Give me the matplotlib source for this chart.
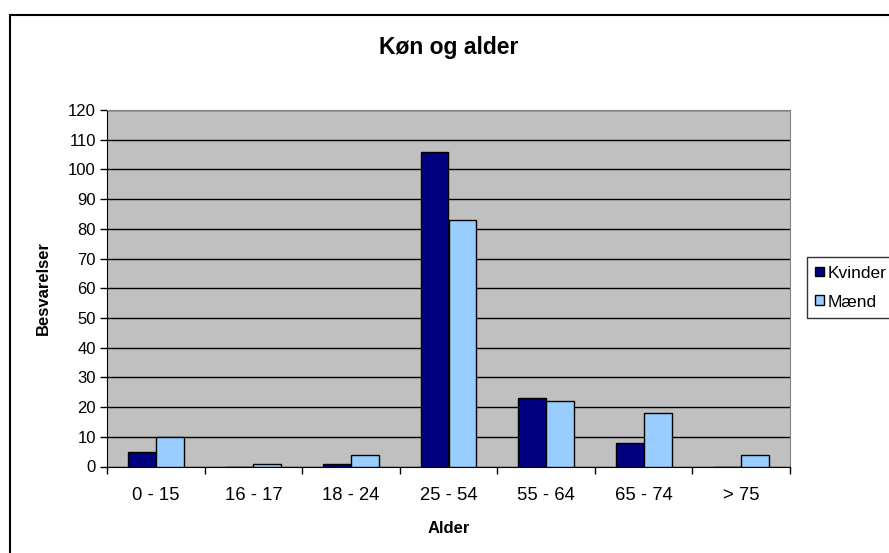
import numpy as np
import matplotlib.pyplot as plt
from matplotlib.patches import Rectangle

plt.rcParams['font.family'] = ['Liberation Sans', 'DejaVu Sans']

# data
aldersgrupper = ['0 - 15', '16 - 17', '18 - 24', '25 - 54', '55 - 64', '65 - 74', '> 75']
kvinder = [5, 0, 1, 106, 23, 8, 0]
maend = [10, 1, 4, 83, 22, 18, 4]
y_ticks = list(range(0, 121, 10))

fig = plt.figure(figsize=(8.89, 5.53), dpi=100)
ax = fig.add_axes([107 / 889, 1 - 466.5 / 553, (790 - 107) / 889, (466.5 - 110) / 553])

# outer chart border (clipped on right/bottom like the original)
fig.patches.append(Rectangle((10 / 889, -0.1), 1.2, 1 - 15 / 553 + 0.1,
                             transform=fig.transFigure, fill=False,
                             edgecolor='black', lw=1.5, clip_on=False))

x = np.arange(len(aldersgrupper))
w = 1 / 3.5
ax.set_facecolor('#C0C0C0')
ax.bar(x - w / 2, kvinder, w, color='#000080', edgecolor='black', lw=1, label='Kvinder', zorder=3)
ax.bar(x + w / 2, maend, w, color='#99CCFF', edgecolor='black', lw=1, label='Mænd', zorder=3)

ax.set_xlim(-0.5, len(aldersgrupper) - 0.5)
ax.set_ylim(0, 120)
ax.set_yticks(y_ticks)
ax.yaxis.grid(True, color='black', lw=1, zorder=1)
ax.set_axisbelow(True)

ax.set_xticks(np.arange(len(aldersgrupper) + 1) - 0.5)
ax.set_xticklabels([])
ax.set_xticks(x, minor=True)
ax.set_xticklabels(aldersgrupper, minor=True)
ax.tick_params(axis='x', which='major', direction='out', length=5, width=1, color='black')
ax.tick_params(axis='x', which='minor', length=0, pad=15, labelsize=13.3)
ax.tick_params(axis='y', direction='out', length=5, width=1, labelsize=12, pad=3)

for s in ['top', 'right']:
    ax.spines[s].set_color('#808080')
for s in ['left', 'bottom']:
    ax.spines[s].set_color('black')

ax.set_title('Køn og alder', fontsize=16.5, fontweight='bold', pad=40)
ax.set_xlabel('Alder', fontsize=12, fontweight='bold', labelpad=12)
ax.set_ylabel('Besvarelser', fontsize=12, fontweight='bold', labelpad=12)

leg = ax.legend(loc='upper left', bbox_to_anchor=(806.5 / 889, 1 - 257 / 553),
                bbox_transform=fig.transFigure, fontsize=12.5, frameon=True,
                fancybox=False, edgecolor='black', handlelength=0.5, handleheight=0.5,
                handletextpad=0.2, borderpad=0.5, labelspacing=0.8, borderaxespad=0)
leg.get_frame().set_linewidth(1)

fig.savefig('out.png', dpi=100)
